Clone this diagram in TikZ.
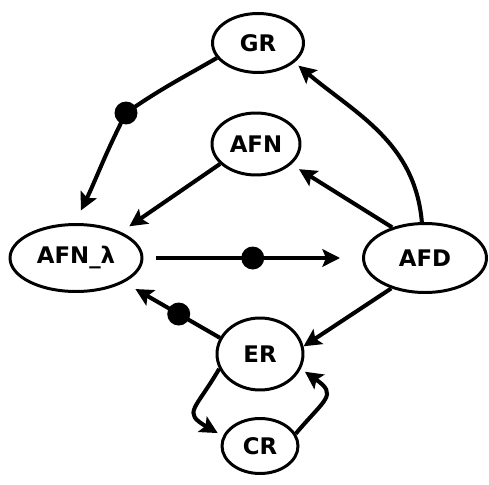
\documentclass[tikz,border=0pt]{standalone}
\usepackage{fontspec}
\setmainfont{DejaVu Sans}
\usetikzlibrary{shapes.geometric,arrows.meta}

\begin{document}
\begin{tikzpicture}
[x=0.02cm,y=0.02cm,
 estado/.style={draw,ellipse,line width=1.7pt,inner sep=0pt,font=\fontsize{13}{15}\selectfont\bfseries},
 flecha/.style={line width=2.3pt,-{Stealth[length=10pt,width=10pt,inset=2pt]}},
 punto/.style={fill,circle,inner sep=0pt,minimum size=0.46cm}]
\useasboundingbox (0,0) rectangle (489,484);
\node[estado,minimum width=1.82cm,minimum height=1.18cm] (gr) at (258,441) {GR};
\node[estado,minimum width=1.76cm,minimum height=1.24cm] (afn) at (256,340) {AFN};
\node[estado,minimum width=2.64cm,minimum height=1.34cm] (afnl) at (76,226) {AFN\_λ};
\node[estado,minimum width=2.46cm,minimum height=1.38cm] (afd) at (425,226) {AFD};
\node[estado,minimum width=1.72cm,minimum height=1.44cm] (er) at (260,130) {ER};
\node[estado,minimum width=1.52cm,minimum height=1.1cm] (cr) at (260,38) {CR};
\node[punto] (p1) at (126,371) {};
\draw[flecha,shorten >=0.28cm] (gr.200) to[out=210,in=35] (p1.center) to[out=243,in=64] (afnl.92);
\draw[flecha,shorten >=0.2cm] (afn.209) -- (afnl.30);
\draw[flecha,shorten >=0.18cm] (afd.137) -- (afn.-30);
\draw[flecha,shorten >=0.1cm] (afd.95) to[out=95,in=-40] (gr.-28);
\draw[flecha,line width=1.9pt,shorten <=0.26cm,shorten >=0.44cm] (afnl.east) -- node[punto] (p2) {} (afd.west);
\draw[flecha,shorten >=0.26cm] (er.158) -- node[punto,pos=0.43] (p3) {} (afnl.-27);
\draw[flecha] (afd.222) -- (er.10);
\draw[flecha,shorten >=0.12cm] (er.200) to[out=240,in=150,looseness=1.8] (cr.165);
\draw[flecha,shorten >=0.1cm] (cr.19) to[out=50,in=-35,looseness=1.8] (er.-20);
\end{tikzpicture}
\end{document}
